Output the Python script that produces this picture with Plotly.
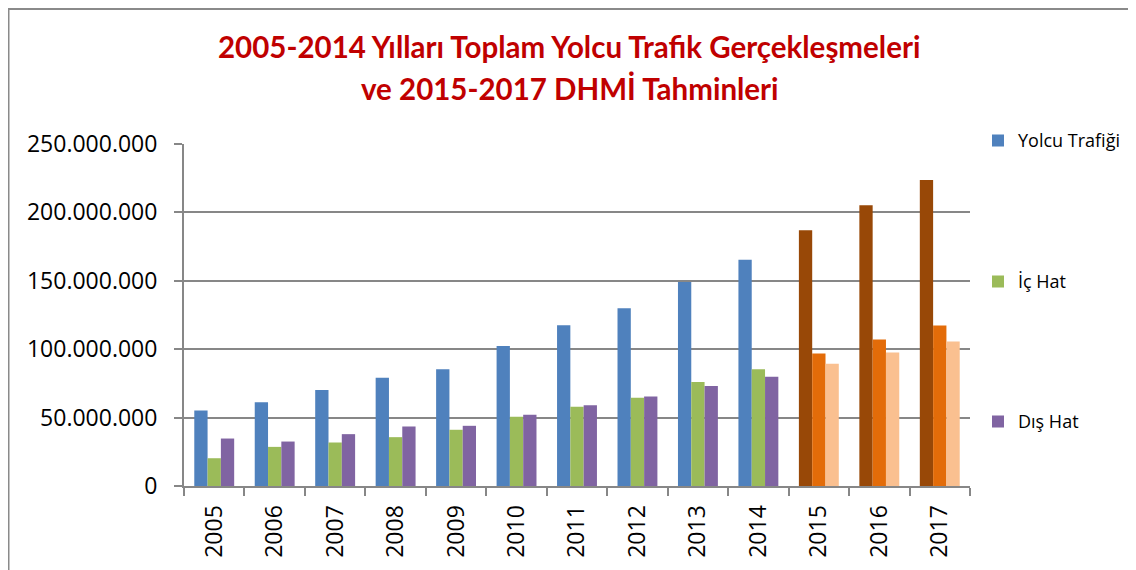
import plotly.graph_objects as go

# ---- data (values in passengers) ----
years = ["2005", "2006", "2007", "2008", "2009", "2010", "2011",
         "2012", "2013", "2014", "2015", "2016", "2017"]
yolcu_trafigi = [55.2e6, 61.3e6, 70.1e6, 79.2e6, 85.3e6, 102.4e6, 117.5e6,
                 130.0e6, 149.1e6, 165.4e6, 187.0e6, 205.3e6, 223.6e6]
ic_hat = [20.3e6, 28.6e6, 31.8e6, 35.7e6, 41.1e6, 50.6e6, 57.9e6,
          64.5e6, 76.0e6, 85.3e6, 96.8e6, 107.0e6, 117.3e6]
dis_hat = [34.7e6, 32.5e6, 37.9e6, 43.5e6, 44.0e6, 52.1e6, 59.1e6,
           65.5e6, 73.1e6, 79.9e6, 89.4e6, 97.5e6, 105.6e6]
forecast_years = ["2015", "2016", "2017"]
series_names = ["Yolcu Trafiği", "İç Hat", "Dış Hat"]
title_lines = ["2005-2014 Yılları Toplam Yolcu Trafik Gerçekleşmeleri",
               "ve 2015-2017 DHMİ Tahminleri"]

hist_colors = ["#4F81BD", "#9BBB59", "#8064A2"]
fc_colors = ["#984807", "#E36C09", "#FAC090"]

# page body adds an 8px margin; work in screen pixels and shift
OFF = 8
W, H = 1136 - OFF, 570 - OFF
L, R, T, B = 184 - OFF, 1136 - 970, 144 - OFF, 570 - 486
pw, ph = W - L - R, H - T - B


def px_x(p):  # screen px -> paper
    return (p - OFF - L) / pw


def px_y(p):
    return (H - B - (p - OFF)) / ph


fig = go.Figure()
legend_ids = ["legend", "legend2", "legend3"]
legend_py = [140.7, 281.7, 421.7]
for i, (name, vals) in enumerate(zip(series_names, [yolcu_trafigi, ic_hat, dis_hat])):
    colors = [fc_colors[i] if y in forecast_years else hist_colors[i] for y in years]
    fig.add_trace(go.Bar(
        x=years, y=vals, name=name,
        marker=dict(color=colors, line=dict(width=0)),
        legend=legend_ids[i], showlegend=True,
    ))

tick_font = dict(family="Open Sans, Liberation Sans, sans-serif", size=23, color="#000000")
axis_gray = "#878787"
title_font = dict(family="Lato, Roboto, Open Sans, sans-serif", size=29.5, color="#C00000")

fig.update_layout(
    width=W, height=H,
    margin=dict(l=L, r=R, t=T, b=B, autoexpand=False),
    paper_bgcolor="white", plot_bgcolor="white",
    barmode="group", bargap=0.34, bargroupgap=0,
    separators=",.",
    showlegend=True,
    xaxis=dict(
        type="category", showline=True, linecolor=axis_gray, linewidth=2,
        ticks="outside", tickson="boundaries", ticklen=8, tickwidth=2, tickcolor=axis_gray,
        tickangle=-90, tickfont=tick_font, showgrid=False, ticklabelstandoff=8,
    ),
    yaxis=dict(
        range=[0, 250e6], dtick=50e6, tickformat=",.0f",
        showgrid=True, gridcolor=axis_gray, gridwidth=2,
        showline=True, linecolor=axis_gray, linewidth=2,
        ticks="outside", ticklen=8, tickwidth=2, tickcolor=axis_gray,
        tickfont=tick_font, zeroline=False, ticklabelstandoff=12,
    ),
    shapes=[dict(
        type="rect", xref="paper", yref="paper",
        x0=px_x(8.5), x1=px_x(1150), y0=px_y(9), y1=px_y(590),
        line=dict(color="#8a8a8a", width=2), fillcolor="rgba(0,0,0,0)", layer="below",
    )],
    annotations=[
        dict(text="<b>%s</b>" % title_lines[0], xref="paper", yref="paper",
             x=px_x(569), y=px_y(47), xanchor="center", yanchor="middle",
             showarrow=False, font=title_font),
        dict(text="<b>%s</b>" % title_lines[1], xref="paper", yref="paper",
             x=px_x(570), y=px_y(88), xanchor="center", yanchor="middle",
             showarrow=False, font=title_font),
    ],
)

legend_font = dict(family="Open Sans, Liberation Sans, sans-serif", size=18, color="#000000")
for lid, py in zip(legend_ids, legend_py):
    fig.update_layout({lid: dict(
        x=px_x(978), xanchor="left", y=px_y(py), yanchor="middle",
        font=legend_font, bgcolor="rgba(0,0,0,0)", borderwidth=0,
        itemclick=False, itemdoubleclick=False,
    )})

fig.write_html("out.html")
